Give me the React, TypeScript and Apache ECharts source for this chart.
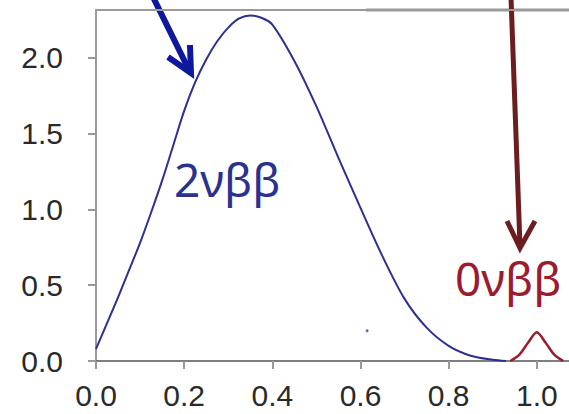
import React, { useEffect, useRef } from "react";
import * as echarts from "echarts";

// 2νββ spectrum (x = energy fraction, y = rate)
const twoNuX = [0, 0.025, 0.05, 0.075, 0.1, 0.125, 0.15, 0.175, 0.2, 0.225, 0.25, 0.275, 0.3, 0.325, 0.35, 0.375, 0.4, 0.45, 0.5, 0.55, 0.6, 0.65, 0.7, 0.75, 0.8, 0.85, 0.9, 0.93];
const twoNuY = [0.08, 0.25, 0.42, 0.6, 0.78, 0.98, 1.19, 1.42, 1.65, 1.84, 1.99, 2.11, 2.2, 2.26, 2.28, 2.265, 2.22, 1.98, 1.68, 1.34, 1.01, 0.69, 0.41, 0.22, 0.1, 0.035, 0.008, 0.0];

// 0νββ peak
const zeroNuX = [0.94, 0.96, 0.98, 1.0, 1.02, 1.04, 1.06];
const zeroNuY = [0, 0.04, 0.12, 0.19, 0.12, 0.04, 0];

// stray speck
const speckX = [0.615];
const speckY = [0.2];

const xTicks = [0, 0.2, 0.4, 0.6, 0.8, 1.0];
const yTicks = [0, 0.5, 1.0, 1.5, 2.0];

const BLUE = "#2b318f";
const RED = "#9a1c2e";

export default function App() {
  const ref = useRef<HTMLDivElement>(null);
  useEffect(() => {
    document.body.style.margin = "0";
    const chart = echarts.init(ref.current!, null, { renderer: "svg" });
    const axisFont = { fontFamily: "Liberation Sans", fontSize: 30, color: "#2a2a2a" };
    chart.setOption({
      animation: false,
      grid: { left: 96, right: 0, top: 10, bottom: 53, outerBoundsMode: "none" },
      xAxis: [
        {
          type: "value",
          min: 0,
          max: 1.073,
          interval: 0.2,
          splitLine: { show: false },
          axisLine: { show: true, lineStyle: { color: "#555", width: 1.5 } },
          axisTick: { show: true, length: 8, lineStyle: { color: "#999", width: 2 }, customValues: xTicks },
          axisLabel: { ...axisFont, margin: 19, customValues: xTicks, formatter: (v: number) => v.toFixed(1) },
        },
        {
          type: "value",
          position: "top",
          min: 0,
          max: 1.073,
          splitLine: { show: false },
          axisLine: { show: true, lineStyle: { color: "#9a9a9a", width: 2 } },
          axisTick: { show: false },
          axisLabel: { show: false },
        },
      ],
      yAxis: {
        type: "value",
        min: 0,
        max: 2.316,
        interval: 0.5,
        splitLine: { show: false },
        axisLine: { show: true, lineStyle: { color: "#9a9a9a", width: 2 } },
        axisTick: { show: true, length: 8, lineStyle: { color: "#999", width: 2 }, customValues: yTicks },
        axisLabel: { ...axisFont, margin: 33, customValues: yTicks, formatter: (v: number) => v.toFixed(1) },
      },
      series: [
        {
          type: "line",
          data: twoNuX.map((x, i) => [x, twoNuY[i]]),
          smooth: 0.3,
          showSymbol: false,
          lineStyle: { color: BLUE, width: 2 },
        },
        {
          type: "line",
          data: zeroNuX.map((x, i) => [x, zeroNuY[i]]),
          smooth: 0.3,
          showSymbol: false,
          lineStyle: { color: RED, width: 2.5 },
        },
        {
          type: "scatter",
          data: speckX.map((x, i) => [x, speckY[i]]),
          symbolSize: 3,
          itemStyle: { color: "#3a3fa0" },
        },
      ],
      graphic: [
        { type: "line", shape: { x1: 366, y1: 10, x2: 569, y2: 10 }, style: { stroke: "#999", lineWidth: 3 } },
        { type: "line", shape: { x1: 153, y1: -3, x2: 189, y2: 70 }, style: { stroke: "#0f179c", lineWidth: 6 } },
        { type: "polyline", shape: { points: [[168, 57], [191, 73], [190, 45]] }, style: { stroke: "#0f179c", lineWidth: 6, fill: null, lineJoin: "miter" } },
        { type: "line", shape: { x1: 511, y1: -3, x2: 520, y2: 246 }, style: { stroke: "#6b1d1f", lineWidth: 5 } },
        { type: "polyline", shape: { points: [[507, 221], [520, 248], [535, 221]] }, style: { stroke: "#6b1d1f", lineWidth: 5, fill: null, lineJoin: "miter" } },
        { type: "text", x: 174, y: 202, style: { text: "2νββ", fontFamily: "Noto Sans", fontSize: 46, fill: BLUE, verticalAlign: "bottom" } },
        { type: "text", x: 455, y: 301, style: { text: "0νββ", fontFamily: "Noto Sans", fontSize: 46, fill: RED, verticalAlign: "bottom" } },
      ],
    });
    return () => chart.dispose();
  }, []);
  return <div ref={ref} style={{ width: 569, height: 414 }} />;
}
